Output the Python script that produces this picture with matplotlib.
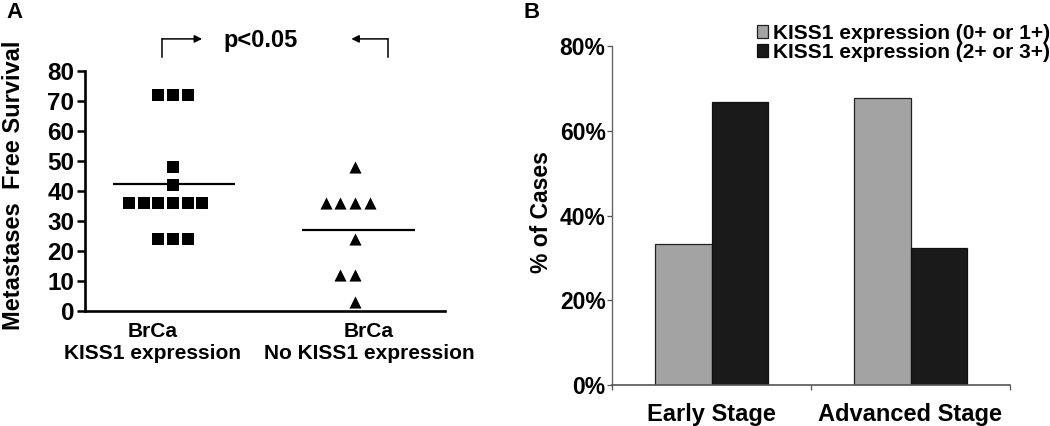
import matplotlib
matplotlib.use('Agg')
import matplotlib.pyplot as plt
import numpy as np

plt.rcParams['font.family'] = ['Liberation Sans', 'DejaVu Sans']
plt.rcParams['font.weight'] = 'bold'
plt.rcParams['axes.labelweight'] = 'bold'

# panel A data
kiss1_pos = [72, 72, 72, 48, 42, 36, 36, 36, 36, 36, 36, 24, 24, 24]
kiss1_neg = [48, 36, 36, 36, 36, 24, 12, 12, 3]
a_labels = ['BrCa\nKISS1 expression', 'BrCa\nNo KISS1 expression']
a_yticks = [0, 10, 20, 30, 40, 50, 60, 70, 80]

# panel B data
stages = ['Early Stage', 'Advanced Stage']
low_expr = [33.3, 67.7]
high_expr = [66.7, 32.3]
series_names = ['KISS1 expression (0+ or 1+)', 'KISS1 expression (2+ or 3+)']
b_yticks = [0, 20, 40, 60, 80]

W, H = 1050, 426


def swarm_x(center, values, step=0.08):
    # spread equal values side by side, like the prism dot plot
    counts = {v: values.count(v) for v in values}
    seen = {}
    xs = []
    for v in values:
        k = seen.get(v, 0)
        seen[v] = k + 1
        xs.append(center + (k - counts[v] // 2) * step)
    return xs


fig = plt.figure(figsize=(W / 100, H / 100), dpi=100)

# ---------------- panel A ----------------
axA = fig.add_axes([85 / W, 1 - 311 / H, 360 / W, 240 / H])
axA.scatter(swarm_x(1, kiss1_pos), kiss1_pos, marker='s', s=64, color='black', lw=0, clip_on=False)
axA.scatter(swarm_x(2, kiss1_neg), kiss1_neg, marker='^', s=76, color='black', lw=0, clip_on=False)
axA.hlines(np.mean(kiss1_pos), 0.67, 1.34, color='black', lw=1.6)
axA.hlines(np.mean(kiss1_neg), 1.71, 2.33, color='black', lw=1.6)

axA.set_xlim(0.5165, 2.4945)
axA.set_ylim(0, 80)
axA.set_yticks(a_yticks)
axA.set_xticks([0.89, 2.077], labels=a_labels)
axA.tick_params(axis='y', direction='out', length=5.8, width=1.8, labelsize=17.5, pad=2)
axA.tick_params(axis='x', length=0, labelsize=15, pad=8)
for s in ['top', 'right']:
    axA.spines[s].set_visible(False)
for s in ['left', 'bottom']:
    axA.spines[s].set_linewidth(1.9)
axA.set_ylabel('Metastases  Free Survival', fontsize=17, fontweight='bold')
axA.yaxis.set_label_coords(-0.167, 0.525)

# significance brackets
axA.plot([0.94, 0.94], [84.7, 90.7], color='black', lw=1.1, clip_on=False)
axA.annotate('', xy=(1.16, 90.7), xytext=(0.94, 90.7), annotation_clip=False,
             arrowprops=dict(arrowstyle='-|>', color='black', lw=1.1, shrinkA=0, shrinkB=0,
                             mutation_scale=11))
axA.plot([2.181, 2.181], [84.7, 90.7], color='black', lw=1.1, clip_on=False)
axA.annotate('', xy=(1.98, 90.7), xytext=(2.181, 90.7), annotation_clip=False,
             arrowprops=dict(arrowstyle='-|>', color='black', lw=1.1, shrinkA=0, shrinkB=0,
                             mutation_scale=11))
axA.text(1.4835, 90.3, 'p<0.05', fontsize=17, fontweight='bold', ha='center', va='center')

# ---------------- panel B ----------------
axB = fig.add_axes([612 / W, 1 - 385 / H, 398 / W, 339 / H])
x = np.arange(len(stages))
w = 0.2864
axB.bar(x - w / 2, low_expr, w, color='#a3a3a3', edgecolor='#222222', lw=0.9, label=series_names[0])
axB.bar(x + w / 2, high_expr, w, color='#1a1a1a', edgecolor='#111111', lw=0.9, label=series_names[1])
axB.set_xlim(-0.5, 1.5)
axB.set_ylim(0, 80)
axB.set_yticks(b_yticks, labels=[f'{v}%' for v in b_yticks])
axB.set_xticks(x, labels=stages)
axB.set_xticks([-0.5, 0.5, 1.5], minor=True)
axB.tick_params(axis='y', direction='out', length=3.6, width=0.9, color='#555555', labelsize=16.5, pad=1)
axB.tick_params(axis='x', which='major', length=0, labelsize=17, pad=13)
axB.tick_params(axis='x', which='minor', direction='out', length=3.6, width=0.9, color='#555555')
for s in ['top', 'right']:
    axB.spines[s].set_visible(False)
axB.spines['left'].set_color('#666666')
axB.spines['left'].set_linewidth(1.0)
axB.spines['bottom'].set_color('#555555')
axB.spines['bottom'].set_linewidth(1.2)
axB.set_ylabel('% of Cases', fontsize=16.5, fontweight='bold')
axB.yaxis.set_label_coords(-0.148, 0.51)

axB.legend(loc='upper left', bbox_to_anchor=(757 / W, 1 - 24 / H), bbox_transform=fig.transFigure,
           frameon=False, fontsize=15, handlelength=0.55, handleheight=0.55, handletextpad=0.2,
           borderpad=0, borderaxespad=0, labelspacing=0.0)

fig.text(14 / W, 1 - 13 / H, 'A', fontsize=16, fontweight='bold', ha='center', va='center')
fig.text(532 / W, 1 - 12 / H, 'B', fontsize=16, fontweight='bold', ha='center', va='center')

fig.savefig('out.png', dpi=100)
